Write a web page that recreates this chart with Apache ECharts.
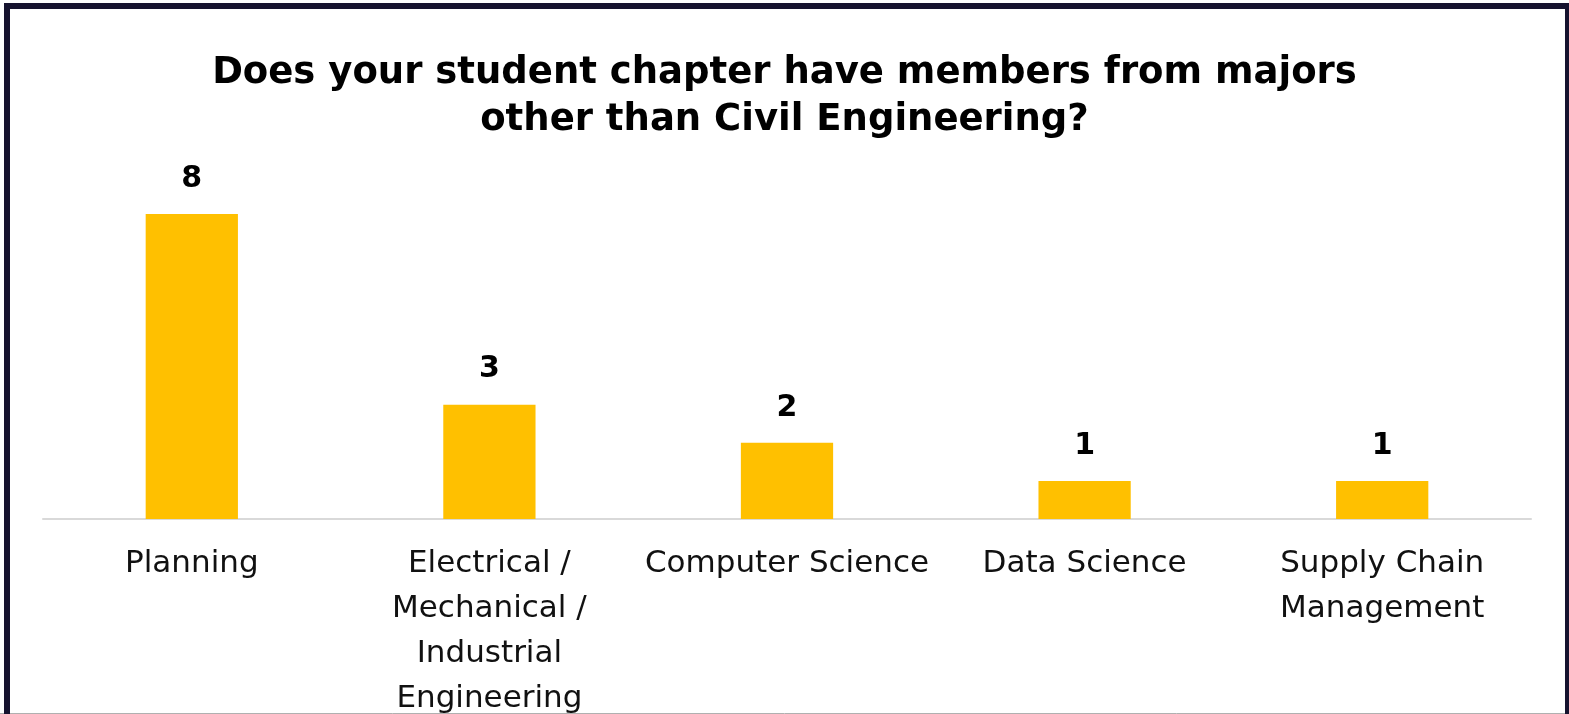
<!DOCTYPE html>
<html>
<head>
<meta charset="utf-8">
<script src="https://cdn.jsdelivr.net/npm/echarts@6/dist/echarts.min.js"></script>
<style>
html,body{margin:0;padding:0;background:#fff;}
#chart{width:1569px;height:714px;}
</style>
</head>
<body>
<div id="chart"></div>
<script>
var titleText = 'Does your student chapter have members from majors\nother than Civil Engineering?';
var categories = ['Planning', 'Electrical /\nMechanical /\nIndustrial\nEngineering', 'Computer Science', 'Data Science', 'Supply Chain\nManagement'];
var values = [8, 3, 2, 1, 1];

var chart = echarts.init(document.getElementById('chart'));
chart.setOption({
  backgroundColor: '#ffffff',
  animation: false,
  title: {
    text: titleText,
    left: 'center',
    top: 45,
    textStyle: {
      fontFamily: 'DejaVu Sans',
      fontWeight: 'bold',
      fontSize: 37,
      lineHeight: 47,
      color: '#000000'
    }
  },
  graphic: [{
    type: 'line',
    shape: { x1: 0, y1: 713.5, x2: 1569, y2: 713.5 },
    style: { stroke: '#b0b0b0', lineWidth: 1 },
    silent: true
  }, {
    type: 'rect',
    shape: { x: 7, y: 6, width: 1561, height: 730 },
    style: { fill: 'none', stroke: '#16132f', lineWidth: 6 },
    silent: true
  }],
  grid: { left: 43, right: 38, top: 214, bottom: 195, containLabel: false, outerBoundsMode: 'none' },
  xAxis: {
    type: 'category',
    data: categories,
    axisLine: { lineStyle: { color: '#d9d9d9', width: 2 } },
    axisTick: { show: false },
    axisLabel: {
      interval: 0,
      margin: 22,
      fontFamily: 'DejaVu Sans',
      fontSize: 31,
      lineHeight: 45,
      color: '#111111'
    }
  },
  yAxis: {
    type: 'value',
    min: 0,
    max: 8,
    show: false,
    splitLine: { show: false }
  },
  series: [{
    type: 'bar',
    data: values,
    barCategoryGap: '69%',
    itemStyle: { color: '#FFC000' },
    label: {
      show: true,
      position: 'top',
      distance: 20,
      fontFamily: 'DejaVu Sans',
      fontWeight: 'bold',
      fontSize: 30,
      color: '#000000'
    }
  }]
});
</script>
</body>
</html>
